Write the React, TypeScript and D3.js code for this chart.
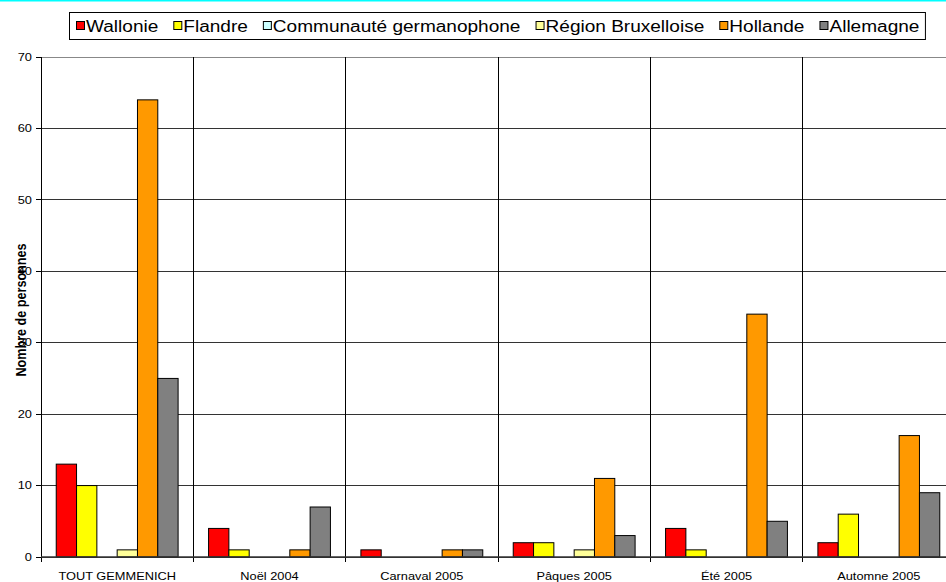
import React from 'react';
import * as d3 from 'd3';

// categories and series
const categories = ['TOUT GEMMENICH', 'Noël 2004', 'Carnaval 2005', 'Pâques 2005', 'Été 2005', 'Automne 2005'];
const seriesNames = ['Wallonie', 'Flandre', 'Communauté germanophone', 'Région Bruxelloise', 'Hollande', 'Allemagne'];
const seriesColors = ['#FF0000', '#FFFF00', '#CCFFFF', '#FFFF99', '#FF9900', '#808080'];
const wallonie = [13, 4, 1, 2, 4, 2];
const flandre = [10, 1, 0, 2, 1, 6];
const germanophone = [0, 0, 0, 0, 0, 0];
const bruxelles = [1, 0, 0, 1, 0, 0];
const hollande = [64, 1, 1, 11, 34, 17];
const allemagne = [25, 7, 1, 3, 5, 9];
const yTicks = [0, 10, 20, 30, 40, 50, 60, 70];

const seriesValues = [wallonie, flandre, germanophone, bruxelles, hollande, allemagne];

const W = 946;
const H = 582;
const margin = { top: 57, left: 41, bottom: 25 };
const plotRight = 955;
// the original picture is a bit stretched sideways
const stretch = 1.22;
const FONT = 'Arial, "Liberation Sans", sans-serif';

function textWidth(s: string, size: number) {
    const c = document.createElement('canvas').getContext('2d');
    if (!c) return s.length * size * 0.55;
    c.font = `${size}px Arial, "Liberation Sans", sans-serif`;
    return c.measureText(s).width;
}

const App = () => {
    const plotBottom = H - margin.bottom;

    const x0 = d3.scaleBand()
        .domain(categories)
        .range([margin.left, plotRight])
        .paddingInner(0)
        .paddingOuter(0);

    const x1 = d3.scaleBand()
        .domain(seriesNames)
        .range([0, x0.bandwidth()])
        .paddingOuter(0.75)
        .paddingInner(0);

    const y = d3.scaleLinear()
        .domain([0, 70])
        .range([plotBottom, margin.top]);

    // legend layout
    const legendSize = 16;
    const legendScale = 1.19;
    const legendGap = 15;
    const legendItems: { name: string; color: string; x: number }[] = [];
    let lx = 76;
    seriesNames.forEach((name, i) => {
        legendItems.push({ name, color: seriesColors[i], x: lx });
        lx += 10 + textWidth(name, legendSize) * legendScale + legendGap;
    });
    const legendRight = lx - legendGap + 6;

    const cats = [...categories, ''];

    return (
        <svg width={W} height={H} style={{ position: 'absolute', left: 0, top: 0, background: '#fff' }}
            fontFamily={FONT}>
            <rect x={0} y={0} width={W} height={1.5} fill="#00FFFF" />

            {/* gridlines */}
            {yTicks.map(t => (
                <line key={'g' + t} x1={margin.left} x2={plotRight} y1={y(t)} y2={y(t)}
                    stroke={t === 70 ? '#888' : '#333'} strokeWidth={1} shapeRendering="crispEdges" />
            ))}

            {/* category separators */}
            {cats.map((c, i) => {
                const xx = margin.left + i * x0.step();
                return (
                    <line key={'v' + i} x1={xx} x2={xx} y1={margin.top} y2={plotBottom + 5}
                        stroke="#000" strokeWidth={1} shapeRendering="crispEdges" />
                );
            })}

            {/* bars */}
            {categories.map((c, ci) => (
                <g key={c} transform={`translate(${x0(c)},0)`}>
                    {seriesNames.map((s, si) => {
                        const v = seriesValues[si][ci];
                        if (!v) return null;
                        return (
                            <rect key={s} x={x1(s)} y={y(v)} width={x1.bandwidth()} height={plotBottom - y(v)}
                                fill={seriesColors[si]} stroke="#000" strokeWidth={1} />
                        );
                    })}
                </g>
            ))}

            {/* axes */}
            <line x1={margin.left} x2={margin.left} y1={margin.top} y2={plotBottom} stroke="#000" shapeRendering="crispEdges" />
            <line x1={margin.left} x2={plotRight} y1={plotBottom} y2={plotBottom} stroke="#333" strokeWidth={1.5} />
            {yTicks.map(t => (
                <g key={'t' + t}>
                    <line x1={margin.left - 5} x2={margin.left} y1={y(t)} y2={y(t)} stroke="#000" shapeRendering="crispEdges" />
                    <text transform={`translate(32,${y(t)}) scale(${stretch},1)`} dy="0.35em" textAnchor="end"
                        fontSize={10.5} fill="#000">{t}</text>
                </g>
            ))}
            {categories.map(c => (
                <text key={'l' + c} transform={`translate(${(x0(c) ?? 0) + x0.bandwidth() / 2},580) scale(${stretch},1)`}
                    textAnchor="middle" fontSize={10.5} fill="#000">{c}</text>
            ))}

            <text transform={`translate(20.5,310) scale(${stretch},1) rotate(-90)`} textAnchor="middle"
                dominantBaseline="central" fontSize={12.6} fontWeight="bold" fill="#000">Nombre de personnes</text>

            {/* legend */}
            <rect x={69.5} y={12.5} width={legendRight - 69.5} height={27} fill="#fff" stroke="#000" strokeWidth={1} />
            {legendItems.map(it => (
                <g key={it.name}>
                    <rect x={it.x + 0.5} y={21.5} width={8} height={8} fill={it.color} stroke="#000" strokeWidth={1} />
                    <text transform={`translate(${it.x + 10},31.5) scale(${legendScale},1)`} fontSize={legendSize} fill="#000">{it.name}</text>
                </g>
            ))}
        </svg>
    );
};

export default App;
